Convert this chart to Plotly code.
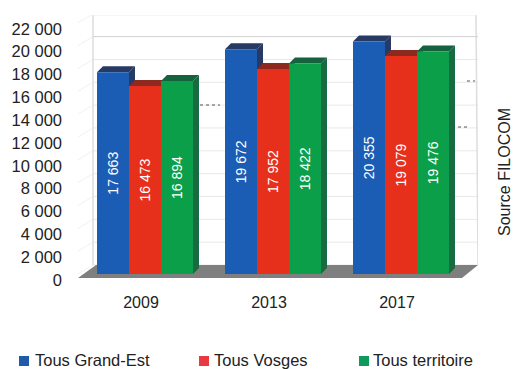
import plotly.graph_objects as go

years = ["2009", "2013", "2017"]
series_names = ["Tous Grand-Est", "Tous Vosges", "Tous territoire"]
grand_est = [17663, 19672, 20355]
vosges = [16473, 17952, 19079]
territoire = [16894, 18422, 19476]
y_ticks = list(range(0, 22001, 2000))
y_labels = [f"{v:,}".replace(",", " ") for v in y_ticks]
source = "Source FILOCOM"

front = ["#1b5cb5", "#e7301c", "#0b9f4a"]
top_col = ["#263a63", "#8c2a20", "#16613e"]
side_col = ["#263a63", "#8c2a20", "#186a43"]
legend_col = ["#1f5ba8", "#e83a3f", "#0f9a5c"]
values = [grand_est, vosges, territoire]

W, H = 513, 369
L, R, T, B = 78, 478, 15, 278
PX_X = 128.0                 # pixels per group
PX_Y = 0.01142               # pixels per unit
x_min = (L - 145) / PX_X
x_max = (R - 145) / PX_X
y_min = -(B - 274) / PX_Y
y_max = (274 - T) / PX_Y
ux = lambda px: px / PX_X
uy = lambda px: px / PX_Y

BAR = 0.25
DX, DY = ux(6), uy(6)        # bar depth
WX, WY = ux(18), uy(9)       # back wall offset (from bar plane)

shapes = []
def poly(pts, fill, layer="below", line=None):
    d = "M " + " L ".join(f"{x:.4f},{y:.2f}" for x, y in pts) + " Z"
    shapes.append(dict(type="path", path=d, xref="x", yref="y", fillcolor=fill,
                       line=dict(width=0, color=fill) if line is None else line, layer=layer))
def seg(x0, y0, x1, y1, color, width=1, dash=None):
    shapes.append(dict(type="line", x0=x0, y0=y0, x1=x1, y1=y1, xref="x", yref="y", layer="below",
                       line=dict(color=color, width=width, dash=dash or "solid")))

# walls
wall_l = x_min + ux(15)
wall_r = x_max
grid = "#e8e8e8"
for t in y_ticks:
    seg(wall_l, t + WY, wall_r, t + WY, grid)
    seg(x_min, t, wall_l, t + WY, "#f1f1f1")
seg(wall_l, y_min + uy(13), wall_l, y_max, "#dddddd", 1.5)
seg(wall_r, y_min + uy(13), wall_r - ux(2), y_max, "#dddddd", 1.5)
seg(wall_l, y_max, wall_r - ux(2), y_max, "#eeeeee")
seg(wall_l, uy(9) + 20000, wall_r, uy(9) + 20000, "#d4d4d4")
# floor
poly([(x_min, y_min), (x_min + ux(18), y_min + uy(13)), (x_max, y_min + uy(13)),
      (x_max - ux(16), y_min)], "#7f7f7f")
# stray marks on the wall
seg(ux(200 - 145), uy(274 - 105), ux(220 - 145), uy(274 - 105), "#555555", 1, "dot")
seg(ux(467 - 145), uy(274 - 81), ux(475 - 145), uy(274 - 81), "#555555", 1, "dot")
seg(ux(458 - 145), uy(274 - 127), ux(470 - 145), uy(274 - 127), "#555555", 1, "dot")

# depth faces of the bars, computed from the data
for s, vals in enumerate(values):
    for g, v in enumerate(vals):
        x0 = g + (s - 1.5) * BAR
        x1 = x0 + BAR
        poly([(x0, v), (x0 + DX, v + DY), (x1 + DX, v + DY), (x1, v)], top_col[s])
        poly([(x1, v), (x1 + DX, v + DY), (x1 + DX, DY), (x1, 0)], side_col[s])

fig = go.Figure()
for s, vals in enumerate(values):
    fig.add_trace(go.Bar(
        x=list(range(3)), y=vals, name=series_names[s], marker=dict(color=front[s], line=dict(width=0)),
        text=[f"{v:,}".replace(",", " ") for v in vals], textposition="inside", insidetextanchor="middle",
        textangle=-90, constraintext="none", cliponaxis=False,
        textfont=dict(family="Liberation Sans", size=14, color="white"), showlegend=False, hoverinfo="skip"))

annotations = [dict(text=source, x=504 / W, y=1 - 172 / H, xref="paper", yref="paper", textangle=-90,
                    xanchor="center", yanchor="middle", showarrow=False,
                    font=dict(family="Liberation Sans", size=16, color="#222222"))]
leg_sq = [24, 204, 364]
leg_txt = [33, 212, 371]
for i, n in enumerate(series_names):
    shapes.append(dict(type="rect", xref="paper", yref="paper", x0=(leg_sq[i] - 5) / W, x1=(leg_sq[i] + 5) / W,
                       y0=1 - 366 / H, y1=1 - 356 / H, fillcolor=legend_col[i], line=dict(width=0)))
    annotations.append(dict(text=n, x=leg_txt[i] / W, y=1 - 360 / H, xref="paper", yref="paper", xanchor="left",
                            yanchor="middle", showarrow=False,
                            font=dict(family="Liberation Sans", size=16.5, color="#222222")))

fig.update_layout(
    width=W, height=H, margin=dict(l=0, r=0, t=0, b=0, autoexpand=False), paper_bgcolor="white", plot_bgcolor="white",
    barmode="group", bargap=0.25, bargroupgap=0, shapes=shapes, annotations=annotations, showlegend=False,
    font=dict(family="Liberation Sans", color="#222222"),
    xaxis=dict(domain=[L / W, R / W], range=[x_min, x_max], tickvals=list(range(3)), ticktext=years, automargin=False,
               showgrid=False, zeroline=False, showline=False, ticks="", ticklabelstandoff=13, ticklabelshift=-4,
               tickfont=dict(size=16, color="#222222")),
    yaxis=dict(domain=[1 - B / H, 1 - T / H], range=[y_min, y_max], tickvals=y_ticks, ticktext=y_labels, automargin=False,
               showgrid=False, zeroline=False, showline=False, ticks="", ticklabelstandoff=15, ticklabelshift=6,
               tickfont=dict(size=16.5, color="#222222")),
)
fig.write_html("out.html", config=dict(displayModeBar=False), post_script="document.body.style.margin='0';")
